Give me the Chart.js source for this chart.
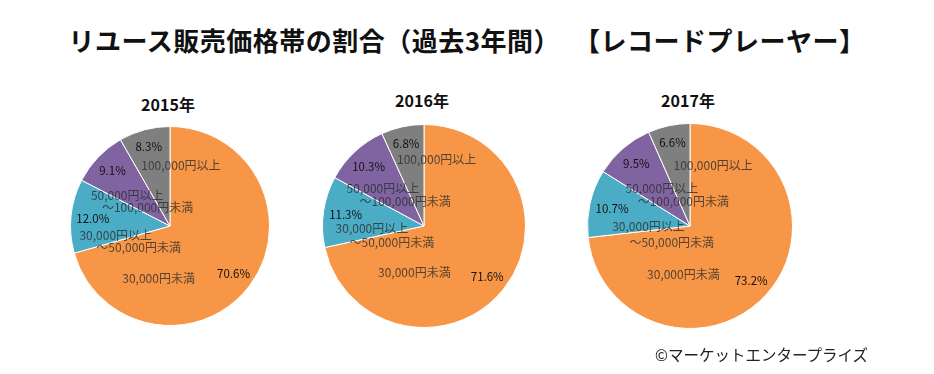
<!DOCTYPE html>
<html><head><meta charset="utf-8">
<script src="https://cdn.jsdelivr.net/npm/chart.js@4/dist/chart.umd.min.js"></script>
<style>
html,body{margin:0;padding:0;background:#fff;width:934px;height:374px;overflow:hidden;font-family:"Noto Sans CJK JP",sans-serif;}
.abs{position:absolute;}
#title{left:0;width:934px;top:21px;text-align:center;font-weight:bold;font-size:26px;line-height:38px;color:#111;white-space:pre;letter-spacing:0.5px;}
#title .gap{display:inline-block;width:14px;}
.year{font-weight:bold;font-size:16px;color:#111;transform:translateX(-50%);white-space:nowrap;}
#credit{left:655px;top:343px;font-size:15.5px;color:#222;white-space:nowrap;}
</style></head>
<body>
<div id="title" class="abs">リユース販売価格帯の割合（過去3年間）<span class="gap"></span>【レコードプレーヤー】</div>
<div id="y0" class="abs year"></div>
<div id="y1" class="abs year"></div>
<div id="y2" class="abs year"></div>
<div class="abs" style="left:49.5px;top:106px;width:240px;height:240px;"><canvas id="c0"></canvas></div>
<div class="abs" style="left:302px;top:104px;width:244px;height:244px;"><canvas id="c1"></canvas></div>
<div class="abs" style="left:567px;top:103px;width:246px;height:246px;"><canvas id="c2"></canvas></div>
<div id="credit" class="abs">©マーケットエンタープライズ</div>
<script>
// ---- data ----
const years = ['2015年', '2016年', '2017年'];
const categories = ['30,000円未満', '30,000円以上\n～50,000円未満', '50,000円以上\n～100,000円未満', '100,000円以上'];
const share2015 = [70.6, 12.0, 9.1, 8.3];
const share2016 = [71.6, 11.3, 10.3, 6.8];
const share2017 = [73.2, 10.7, 9.5, 6.6];

// ---- styling / layout ----
const colors = ['#F79646', '#4BACC6', '#8064A2', '#7F7F7F'];
const yearPos = [[168, 92], [422, 88], [688, 88]];
// category label line centres, in units of radius from the pie centre
const catLayout = [
  [[[-0.115, 0.53]], [[-0.545, 0.09], [-0.315, 0.22]], [[-0.43, -0.31], [-0.225, -0.19]], [[0.11, -0.61]]],
  [[[-0.095, 0.458]], [[-0.513, 0.023], [-0.317, 0.164]], [[-0.405, -0.37], [-0.186, -0.238]], [[0.125, -0.654]]],
  [[[-0.065, 0.476]], [[-0.405, 0.007], [-0.178, 0.158]], [[-0.275, -0.366], [-0.065, -0.236]], [[0.226, -0.592]]]
];
const pctRadius = [0.80, 0.78, 0.80, 0.83];

const labelPlugin = {
  id: 'pieLabels',
  afterDatasetsDraw(chart) {
    const ctx = chart.ctx;
    const meta = chart.getDatasetMeta(0);
    const ds = chart.data.datasets[0];
    const layout = chart.options.plugins.pieLabels.layout;
    ctx.save();
    ctx.textAlign = 'center';
    ctx.textBaseline = 'middle';
    meta.data.forEach((arc, i) => {
      const p = arc.getProps(['x', 'y', 'startAngle', 'endAngle', 'outerRadius'], true);
      const r = p.outerRadius;
      // category text
      ctx.font = '12px "Noto Sans CJK JP", sans-serif';
      ctx.fillStyle = 'rgba(45,45,45,0.8)';
      const lines = chart.data.labels[i].split('\n');
      lines.forEach((ln, k) => {
        const off = layout[i][k];
        ctx.fillText(ln, p.x + off[0] * r, p.y + off[1] * r);
      });
      // percentage
      const mid = (p.startAngle + p.endAngle) / 2;
      const pr = pctRadius[i] * r;
      ctx.font = '11.5px "Noto Sans CJK JP", sans-serif';
      ctx.fillStyle = '#111111';
      ctx.fillText(ds.data[i].toFixed(1) + '%', p.x + Math.cos(mid) * pr, p.y + Math.sin(mid) * pr);
    });
    ctx.restore();
  }
};

function makePie(id, data, layout) {
  new Chart(document.getElementById(id), {
    type: 'pie',
    data: {
      labels: categories,
      datasets: [{ data: data, backgroundColor: colors, borderColor: '#ffffff', borderWidth: 1 }]
    },
    options: {
      responsive: true, maintainAspectRatio: false, animation: false,
      layout: { padding: 20 },
      plugins: { legend: { display: false }, tooltip: { enabled: false }, pieLabels: { layout: layout } }
    },
    plugins: [labelPlugin]
  });
}

const allShares = [share2015, share2016, share2017];
allShares.forEach((s, i) => {
  makePie('c' + i, s, catLayout[i]);
  const el = document.getElementById('y' + i);
  el.textContent = years[i];
  el.style.left = yearPos[i][0] + 'px';
  el.style.top = yearPos[i][1] + 'px';
});
</script>
</body></html>
